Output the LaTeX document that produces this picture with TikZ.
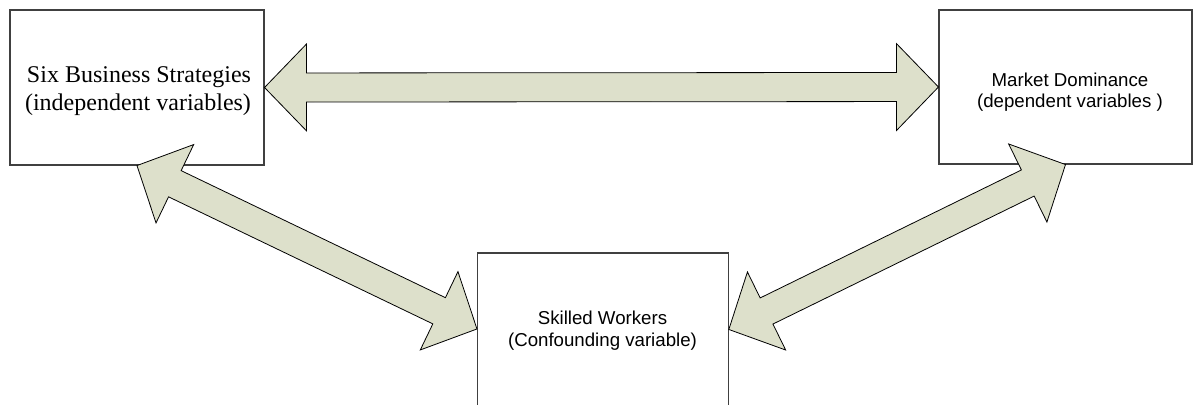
\documentclass[tikz,border=0pt]{standalone}
\usepackage{fontspec}
\setmainfont{Liberation Serif}
\newfontfamily\arialish{Liberation Sans}
\usetikzlibrary{calc,fit}
\definecolor{arrowgreen}{RGB}{221,224,203}
\definecolor{boxline}{RGB}{64,64,64}

% Two-headed block arrow between two named points:
% head length 42, head half-width 43.5, shaft half-width 14.5 (in picture units)
\newcommand{\twowayarrow}[2]{%
  \coordinate (hb1) at ($(#1)!31.5pt!(#2)$);
  \coordinate (hb2) at ($(#2)!31.5pt!(#1)$);
  \draw[blockarrow] (#1)
    -- ($(hb1)!32.6pt!90:(#1)$) -- ($(hb1)!10.9pt!90:(#1)$)
    -- ($(hb2)!10.9pt!-90:(#2)$) -- ($(hb2)!32.6pt!-90:(#2)$)
    -- (#2)
    -- ($(hb2)!32.6pt!90:(#2)$) -- ($(hb2)!10.9pt!90:(#2)$)
    -- ($(hb1)!10.9pt!-90:(#1)$) -- ($(hb1)!32.6pt!-90:(#1)$)
    -- cycle;}

\begin{document}
\begin{tikzpicture}[x=0.75pt,y=-0.75pt,
  varbox/.style={draw=boxline, fill=white, line width=0.8pt, inner sep=0pt},
  serifline/.style={anchor=base, inner sep=0pt, font=\fontsize{18}{21}\selectfont},
  sansline/.style={anchor=base, inner sep=0pt, font=\arialish\fontsize{14}{16}\selectfont},
  blockarrow/.style={fill=arrowgreen, draw=black, line width=0.6pt, line join=miter}]
\useasboundingbox (0,0) rectangle (1199,404);
\clip (0,0) rectangle (1199,404);

% variable boxes
\node[varbox, fit={(10,10) (264,165)}] (strat) {};
\node[varbox, fit={(939,10) (1192,164)}] (market) {};
\node[varbox, fit={(477.5,253) (728.3,420)}] (skilled) {};

% box texts
\node[serifline] (strat1) at (139,82) {Six Business Strategies};
\node[serifline] (strat2) at (138,110) {(independent variables)};
\node[sansline] (market1) at (1070,86) {Market Dominance};
\node[sansline] (market2) at (1070,107) {(dependent variables )};
\node[sansline] (skilled1) at (602.5,324) {Skilled Workers};
\node[sansline] (skilled2) at (602.5,346) {(Confounding variable)};

% arrow end points on the boxes
\coordinate (sl) at ($(skilled.north west)+(0,76.5)$);
\coordinate (sr) at ($(skilled.north east)+(0,77)$);

% relationships
\twowayarrow{strat.east}{market.west}
\twowayarrow{strat.south}{sl}
\twowayarrow{sr}{market.south}
\end{tikzpicture}
\end{document}
